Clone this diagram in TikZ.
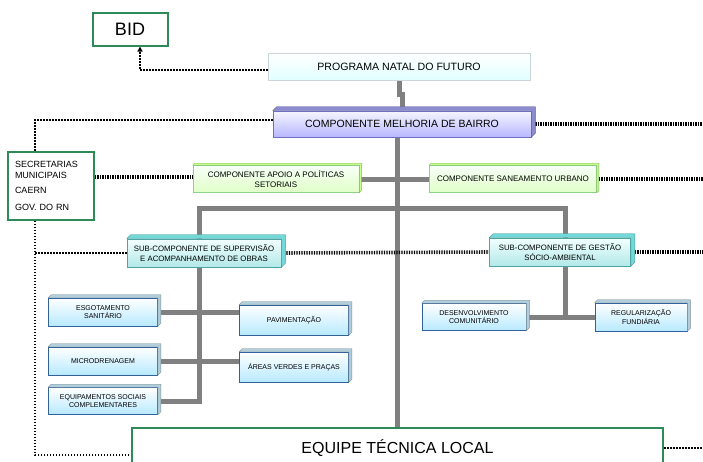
\documentclass[tikz,border=0pt]{standalone}
\usepackage{fontspec}
\setmainfont{Liberation Sans}
\usetikzlibrary{shadings,arrows.meta,backgrounds}

\definecolor{verdeBorda}{HTML}{2E8B57}
\definecolor{cinzaBarra}{HTML}{808080}
\colorlet{ladoRoxo}{blue!40!gray!65}
\colorlet{ladoVerde}{green!50!yellow!45}
\colorlet{ladoTeal}{teal!55!cyan!55}
\colorlet{ladoAzul}{blue!30!cyan!35!gray!45}

\tikzset{
  caixa/.style={draw, inner sep=1pt, align=center, line width=0.6pt},
  moldura/.style={draw=verdeBorda, line width=2pt, fill=white, inner sep=0pt},
  programabox/.style={caixa, draw=cyan!20!gray!40, top color=white, bottom color=cyan!12,
    minimum width=262pt, minimum height=27pt, font=\fontsize{10.6}{12}\selectfont},
  melhoriabox/.style={caixa, draw=blue!40!gray!80, top color=blue!4, bottom color=blue!28!white,
    minimum width=258pt, minimum height=26pt, font=\fontsize{10.5}{12}\selectfont},
  verdebox/.style={caixa, draw=green!60!black!45, top color=green!3, bottom color=green!55!yellow!22,
    minimum height=27pt, font=\fontsize{8}{9.5}\selectfont},
  subbox/.style={caixa, draw=teal!70, top color=cyan!5, bottom color=cyan!40!teal!30,
    minimum height=28pt, font=\fontsize{7.8}{9.5}\selectfont},
  folha/.style={caixa, draw=blue!40!teal!60!gray, top color=white, bottom color=blue!30!cyan!28,
    minimum height=28pt, font=\fontsize{7}{8.5}\selectfont},
  barra/.style={draw=cinzaBarra, line width=5pt},
  pont/.style={draw=black, line width=1.8pt, dash pattern=on 1.6pt off 1.4pt},
  hachura/.style={draw=black, line width=3.6pt, dash pattern=on 1.4pt off 1.1pt},
}

\begin{document}
\begin{tikzpicture}[x=1pt, y=-1pt]
  \clip (0,0) rectangle (703,461);
  \coordinate (esq) at (35,0);
  \coordinate (borda) at (705,0);

  \node[moldura, minimum width=75pt, minimum height=33pt, font=\fontsize{18}{20}\selectfont] (bid) at (130,29) {BID};
  \node[programabox] (programa) at (399,67) {PROGRAMA NATAL DO FUTURO};
  \node[melhoriabox] (melhoria) at (402,124) {COMPONENTE MELHORIA DE BAIRRO};
  \node[moldura, line width=1.6pt, minimum width=86pt, minimum height=68pt, text width=72pt, inner xsep=7pt, align=left,
    font=\fontsize{9}{10.5}\selectfont] (secretarias) at (51,186) {SECRETARIAS\\MUNICIPAIS\\[5pt]CAERN\\[6pt]GOV. DO RN};
  \node[verdebox, minimum width=166pt] (apoio) at (276,179) {COMPONENTE APOIO A POLÍTICAS\\SETORIAIS};
  \node[verdebox, minimum width=167pt] (saneamento) at (513,179) {COMPONENTE SANEAMENTO URBANO};
  \node[subbox, minimum width=154pt] (supervisao) at (204,253) {SUB-COMPONENTE DE SUPERVISÃO\\E ACOMPANHAMENTO DE OBRAS};
  \node[subbox, minimum width=141pt] (gestao) at (560,252) {SUB-COMPONENTE DE GESTÃO\\SÓCIO-AMBIENTAL};
  \node[folha, minimum width=109pt] (esgotamento) at (103,312) {ESGOTAMENTO\\SANITÁRIO};
  \node[folha, minimum width=109pt, minimum height=30pt] (pavimentacao) at (294,320) {PAVIMENTAÇÃO};
  \node[folha, minimum width=109pt] (microdrenagem) at (103,361) {MICRODRENAGEM};
  \node[folha, minimum width=109pt, minimum height=30pt] (areas) at (294,367) {ÁREAS VERDES E PRAÇAS};
  \node[folha, minimum width=109pt, minimum height=27pt] (equipamentos) at (103,401) {EQUIPAMENTOS SOCIAIS\\COMPLEMENTARES};
  \node[folha, minimum width=104pt, minimum height=27pt] (desenvolvimento) at (474,317) {DESENVOLVIMENTO\\COMUNITÁRIO};
  \node[folha, minimum width=92pt] (regularizacao) at (641,317) {REGULARIZAÇÃO\\FUNDIÁRIA};
  \node[moldura, minimum width=531pt, minimum height=40pt, font=\fontsize{16}{18}\selectfont] (equipe) at (397.5,448) {EQUIPE TÉCNICA LOCAL};

  \foreach \n/\d/\c in {melhoria/4/ladoRoxo, apoio/2/ladoVerde, saneamento/2/ladoVerde,
      supervisao/4/ladoTeal, gestao/4/ladoTeal, esgotamento/3/ladoAzul, pavimentacao/3/ladoAzul,
      microdrenagem/3/ladoAzul, areas/3/ladoAzul, equipamentos/3/ladoAzul, desenvolvimento/3/ladoAzul, regularizacao/3/ladoAzul}
    \filldraw[fill=\c, draw=\c!70!black, line width=0.4pt, line join=round] (\n.north west) -- ++(\d,-\d)
      -- ([shift={(\d,-\d)}]\n.north east) -- ([shift={(\d,-\d)}]\n.south east) -- (\n.south east) -- (\n.north east) -- cycle;

  \begin{scope}[on background layer]
  \fill[white] (0,0) rectangle (703,461);
  \draw[barra] (programa.south) -- ++(0,14) -- ++(3,0) -- ([yshift=4pt]melhoria.north);
  \draw[barra] (equipe.north |- melhoria.south) -- (equipe.north);
  \draw[barra] (apoio.east) -- (saneamento.west);
  \draw[barra] ([xshift=-5pt]supervisao.north) |- ([xshift=5pt]gestao.north |- 0,208) -- ([xshift=5pt]gestao.north);
  \draw[barra] ([xshift=-5pt]supervisao.south) |- (equipamentos.east);
  \draw[barra] (esgotamento.east) -- (esgotamento.east -| pavimentacao.west);
  \draw[barra] (microdrenagem.east) -- (microdrenagem.east -| areas.west);
  \draw[barra] ([xshift=5pt]gestao.south) -- ([xshift=5pt]gestao.south |- desenvolvimento.east);
  \draw[barra] (desenvolvimento.east) -- (regularizacao.west);

  \draw[pont, -{Triangle[length=5pt, width=5pt]}] ([yshift=-3pt]programa.west) -| ([xshift=10pt]bid.south);
  \draw[pont] ([yshift=4pt]melhoria.west) -| (esq |- secretarias.north);
  \draw[pont] (esq |- secretarias.south) |- ([yshift=-7pt]equipe.west);
  \draw[pont] (esq |- supervisao.west) -- (supervisao.west);
  \draw[pont] (equipe.east) -- (equipe.east -| borda);
  \draw[hachura] ([yshift=2pt]apoio.west -| secretarias.east) -- ([yshift=2pt]apoio.west);
  \draw[hachura] (supervisao.east) -- (gestao.west);
  \draw[hachura] ([xshift=4pt]melhoria.east) -- ([xshift=4pt]melhoria.east -| borda);
  \draw[hachura] ([xshift=2pt]saneamento.east) -- ([xshift=2pt]saneamento.east -| borda);
  \draw[hachura] ([xshift=4pt]gestao.east) -- ([xshift=4pt]gestao.east -| borda);
  \end{scope}
\end{tikzpicture}
\end{document}
